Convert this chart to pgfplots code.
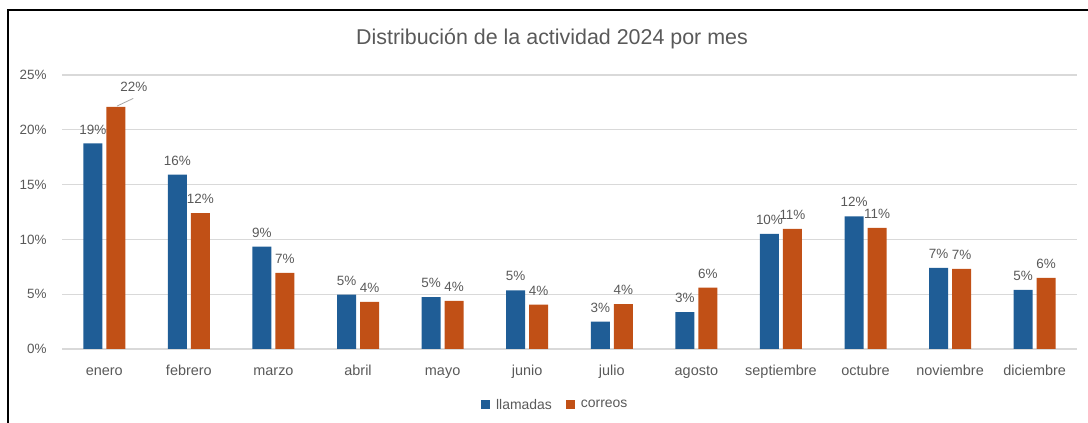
\documentclass[border=0pt]{standalone}
\usepackage{pgfplots}
\pgfplotsset{compat=1.18}
\usepackage{pgfplotstable}
\usepackage{fontspec}
\setmainfont{Liberation Sans}
\definecolor{cblue}{RGB}{31,93,150}
\definecolor{corange}{RGB}{193,80,22}
\definecolor{txt}{RGB}{89,89,89}
\definecolor{gridc}{RGB}{217,217,217}
\definecolor{leader}{RGB}{165,165,165}

\pgfplotstableread{
x y lab dx dy
0 18.75 19 0 0
1 15.9 16 0 0
2 9.35 9 0 0
3 4.97 5 0 0
4 4.74 5 0 0
5 5.35 5 0 0
6 2.5 3 0 0
7 3.36 3 0 0
8 10.5 10 0 0
9 12.1 12 0 0
10 7.4 7 0 0
11 5.4 5 0 0
}\llamadas

\pgfplotstableread{
x y lab dx dy
0 22.1 22 18 6
1 12.4 12 0 0
2 6.95 7 0 0
3 4.3 4 0 0
4 4.38 4 0 0
5 4.06 4 0 0
6 4.1 4 0 0
7 5.6 6 0 0
8 10.97 11 0 0
9 11.05 11 0 0
10 7.3 7 0 0
11 6.5 6 0 0
}\correos

\begin{document}
\begin{tikzpicture}
\path[use as bounding box] (0,0) rectangle (1088bp,423bp);
\draw[black, line width=1.3bp] (8bp,0) -- (8bp,413bp) -- (1088bp,413bp);
\node[font=\fontsize{21.5}{25}\selectfont, text=txt] at (552bp,384bp) {Distribución de la actividad 2024 por mes};
\begin{axis}[
  at={(62bp,74bp)}, anchor=south west,
  scale only axis, width=1015bp, height=274bp,
  xmin=-0.5, xmax=11.5, ymin=0, ymax=25,
  enlargelimits=false,
  ybar=4bp, bar width=19bp,
  axis line style={draw=none},
  tick style={draw=none}, major tick length=0pt,
  ymajorgrids, grid style={gridc, line width=1.3bp},
  ytick={0,5,10,15,20,25},
  yticklabels={0\%,5\%,10\%,15\%,20\%,25\%},
  xtick={0,...,11},
  xticklabels={enero,febrero,marzo,abril,mayo,junio,julio,agosto,septiembre,octubre,noviembre,diciembre},
  yticklabel style={font=\fontsize{13.5}{16}\selectfont, text=txt, xshift=-12bp},
  xticklabel style={font=\fontsize{14.5}{17}\selectfont, text=txt, anchor=base, yshift=-26bp},
  point meta=explicit,
  nodes near coords={\pgfmathprintnumber[assume math mode=true]{\pgfplotspointmeta}\%},
  nodes near coords style={font=\fontsize{13.5}{16}\selectfont, text=txt, anchor=base, inner sep=0pt},
  visualization depends on={\thisrow{dx} \as \dx},
  visualization depends on={\thisrow{dy} \as \dy},
  every node near coord/.append style={xshift=\dx bp, yshift=9.4bp+\dy bp},
  legend columns=2,
  legend style={at={(0.486,-0.204)}, anchor=center, draw=none, fill=none,
    font=\fontsize{14}{16}\selectfont, text=txt,
    /tikz/every even column/.append style={column sep=12bp}},
  legend image code/.code={\fill[#1] (0bp,-4.5bp) rectangle (9bp,4.5bp); \path (13bp,0bp);},
]
\addplot[fill=cblue, draw=none] table[x=x, y=y, meta=lab] {\llamadas};
\addplot[fill=corange, draw=none] table[x=x, y=y, meta=lab] {\correos};
\legend{llamadas, correos}
\draw[leader, line width=0.8bp] ([xshift=12.7bp, yshift=0.7bp]axis cs:0,22.1) -- ([xshift=29bp, yshift=8.4bp]axis cs:0,22.1);
\end{axis}
\end{tikzpicture}
\end{document}
